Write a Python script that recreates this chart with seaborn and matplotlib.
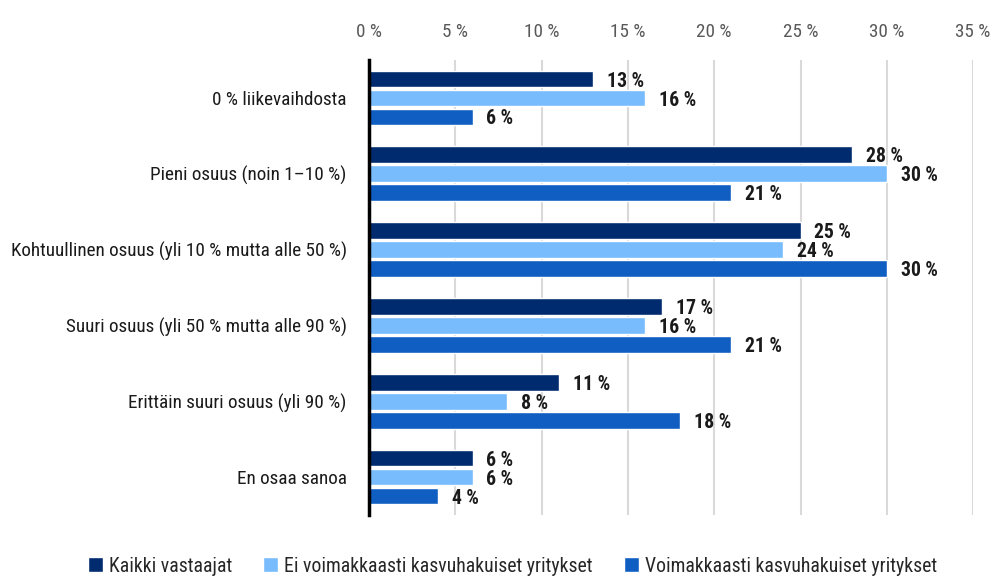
import matplotlib
matplotlib.use("Agg")
import matplotlib.pyplot as plt
from matplotlib import font_manager
import seaborn as sns
import pandas as pd

categories = [
    "0 % liikevaihdosta",
    "Pieni osuus (noin 1–10 %)",
    "Kohtuullinen osuus (yli 10 % mutta alle 50 %)",
    "Suuri osuus (yli 50 % mutta alle 90 %)",
    "Erittäin suuri osuus (yli 90 %)",
    "En osaa sanoa",
]
series = ["Kaikki vastaajat", "Ei voimakkaasti kasvuhakuiset yritykset", "Voimakkaasti kasvuhakuiset yritykset"]
kaikki = [13, 28, 25, 17, 11, 6]
ei_voimakkaasti = [16, 30, 24, 16, 8, 6]
voimakkaasti = [6, 21, 30, 21, 18, 4]
colors = ["#002b6e", "#78bcfd", "#115ec2"]
xticks = [0, 5, 10, 15, 20, 25, 30, 35]

rows = []
for s, vals in zip(series, [kaikki, ei_voimakkaasti, voimakkaasti]):
    for c, v in zip(categories, vals):
        rows.append({"Kategoria": c, "Sarja": s, "Arvo": v})
df = pd.DataFrame(rows)

sns.set_theme(style="white")
fonts = font_manager.fontManager.ttflist
cond = [f for f in fonts if ("Condensed" in f.name or "Narrow" in f.name
        or str(f.stretch) in ("condensed", "semi-condensed", "extra-condensed")) and f.style == "normal"]
chosen = None
for pref in ["Roboto Condensed", "Open Sans Condensed", "Liberation Sans Narrow", "DejaVu Sans Condensed", "DejaVu Sans"]:
    for f in cond:
        if f.name == pref and str(f.stretch) != "normal" or f.name == pref and pref != "DejaVu Sans":
            chosen = f
            break
    if chosen:
        break
if chosen is None and cond:
    chosen = cond[0]
if chosen is not None:
    plt.rcParams["font.family"] = [chosen.name, "DejaVu Sans"]
    plt.rcParams["font.stretch"] = chosen.stretch
    base = 13.8
else:
    plt.rcParams["font.family"] = ["DejaVu Sans"]
    base = 10.5

fig = plt.figure(figsize=(9.93, 5.76), dpi=100)
ax = fig.add_axes([0.3716, 0.1059, 0.980 - 0.3716, 0.8958 - 0.1059])

sns.barplot(data=df, y="Kategoria", x="Arvo", hue="Sarja", order=categories,
            hue_order=series, palette=colors, orient="h", width=0.75, gap=0.12,
            saturation=1, ax=ax, legend=True)

for cont in ax.containers:
    for bar in cont:
        w = bar.get_width()
        y = bar.get_y() + bar.get_height() / 2
        ax.annotate(f"{w:.0f} %", xy=(w, y), xytext=(10, -1.5), textcoords="offset points",
                    ha="left", va="center", fontsize=base + 0.4, fontweight="bold", color="#1a1a1a")

ax.set_xlim(0, 35)
ax.set_ylim(len(categories) - 0.5, -0.5)
ax.set_xticks(xticks)
ax.set_xticklabels([f"{t} %" for t in xticks])
ax.xaxis.tick_top()
ax.tick_params(axis="x", length=0, pad=14, labelsize=base, labelcolor="#595959")
ax.tick_params(axis="y", length=0, pad=16, labelsize=base, labelcolor="#1a1a1a")
ax.set_xlabel("")
ax.set_ylabel("")
ax.grid(axis="x", color="#d9d9d9", linewidth=1.5)
ax.set_axisbelow(True)
for side in ["top", "right", "bottom"]:
    ax.spines[side].set_visible(False)
ax.spines["left"].set_color("black")
ax.spines["left"].set_linewidth(2.5)
ax.spines["left"].set_zorder(5)

handles, labels = ax.get_legend_handles_labels()
ax.legend_.remove()
fig.legend(handles, labels, loc="lower center", bbox_to_anchor=(0.516, -0.03), ncol=3,
           frameon=False, fontsize=base + 0.4, handlelength=0.75, handleheight=0.75,
           handletextpad=0.3, columnspacing=1.6)
fig.savefig("out.png", dpi=100)
